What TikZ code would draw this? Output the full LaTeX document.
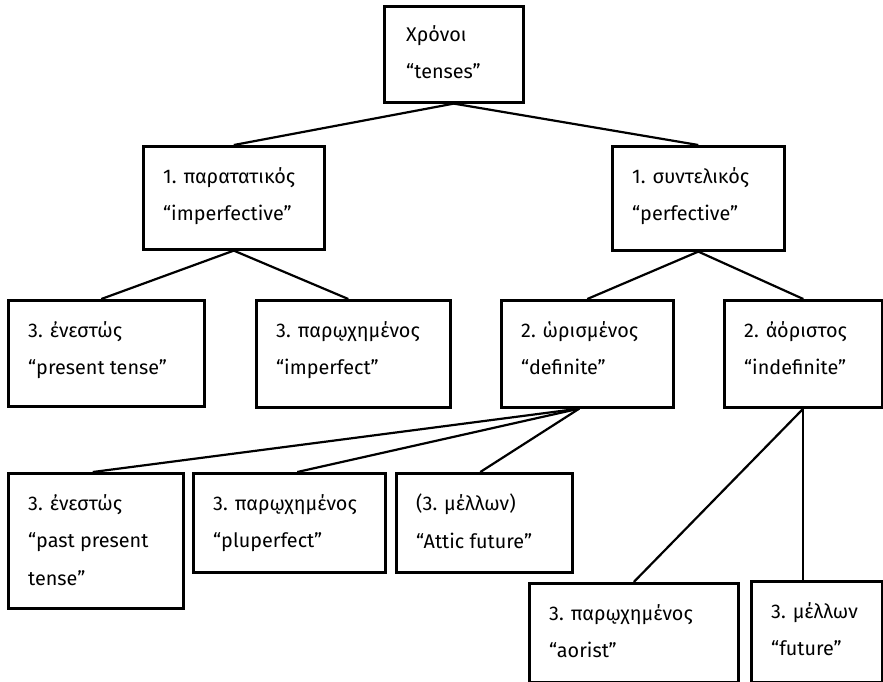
\documentclass[tikz,border=0pt]{standalone}
\usepackage{fontspec}
\setmainfont{Fira Sans}
\begin{document}
\begin{tikzpicture}[x=1pt,y=-1pt,
  box/.style={draw, line width=2.6pt, rectangle, inner sep=0pt, anchor=north west},
  lbl/.style={anchor=north west, align=left, inner sep=0pt,
              font=\fontsize{19.8}{37.5}\selectfont,
              execute at begin node={\rule{0pt}{20pt}}},
  link/.style={line width=2.2pt}]
\useasboundingbox (0,0) rectangle (883,681);
\clip (0,0) rectangle (883,681);

% boxes (top-left corner, width, height)
\node[box, minimum width=139pt, minimum height=96pt]  (top)    at (383,5)   {};
\node[box, minimum width=181pt, minimum height=103pt] (para)   at (142,145) {};
\node[box, minimum width=172pt, minimum height=104pt] (synt)   at (611,145) {};
\node[box, minimum width=196pt, minimum height=106pt] (pres)   at (7,299)   {};
\node[box, minimum width=194pt, minimum height=107pt] (impf)   at (255,299) {};
\node[box, minimum width=172pt, minimum height=107pt] (oris)   at (500,299) {};
\node[box, minimum width=158pt, minimum height=107pt] (aor)    at (723,299) {};
\node[box, minimum width=175pt, minimum height=135pt] (ppt)    at (7,472)   {};
\node[box, minimum width=192pt, minimum height=99pt]  (plup)   at (192,472) {};
\node[box, minimum width=176pt, minimum height=99pt]  (attic)  at (395,472) {};
\node[box, minimum width=209pt, minimum height=99pt]  (aorist) at (528,582) {};
\node[box, minimum width=131pt, minimum height=101pt] (fut)    at (750,580) {};

% texts: first baseline about 42pt below the box top
\node[lbl] at ([shift={(23pt,-20pt)}]top.north west)    {Χρόνοι\\“tenses”};
\node[lbl] at ([shift={(21pt,-22pt)}]para.north west)   {1. παρατατικός\\“imperfective”};
\node[lbl] at ([shift={(21pt,-22pt)}]synt.north west)   {1. συντελικός\\“perfective”};
\node[lbl] at ([shift={(21pt,-22pt)}]pres.north west)   {3. ἐνεστώς\\“present tense”};
\node[lbl] at ([shift={(21pt,-22pt)}]impf.north west)   {3. παρῳχημένος\\“imperfect”};
\node[lbl] at ([shift={(21pt,-22pt)}]oris.north west)   {2. ὡρισμένος\\“definite”};
\node[lbl] at ([shift={(21pt,-22pt)}]aor.north west)    {2. ἀόριστος\\“indefinite”};
\node[lbl] at ([shift={(21pt,-22pt)}]ppt.north west)    {3. ἐνεστώς\\“past present\\tense”};
\node[lbl] at ([shift={(21pt,-22pt)}]plup.north west)   {3. παρῳχημένος\\“pluperfect”};
\node[lbl] at ([shift={(21pt,-22pt)}]attic.north west)  {(3. μέλλων)\\“Attic future”};
\node[lbl] at ([shift={(21pt,-22pt)}]aorist.north west) {3. παρῳχημένος\\“aorist”};
\node[lbl] at ([shift={(21pt,-22pt)}]fut.north west)    {3. μέλλων\\“future”};

% connectors
\draw[link] (top.south) -- (para.north);
\draw[link] (top.south) -- (synt.north);
\draw[link] (para.south) -- ([xshift=-5pt]pres.north);
\draw[link] (para.south) -- ([xshift=-5pt]impf.north);
\draw[link] (synt.south) -- (oris.north);
\draw[link] (synt.south) -- (aor.north);
\coordinate (ofan) at ([xshift=-8pt]oris.south);
\draw[link] (ofan) -- ([xshift=-3pt]ppt.north);
\draw[link] (ofan) -- ([xshift=8pt]plup.north);
\draw[link] (ofan) -- ([xshift=-4pt]attic.north);
\draw[link] (aor.south) -- (aorist.north);
\draw[link] (aor.south) -- (aor.south |- fut.north);
\end{tikzpicture}
\end{document}
